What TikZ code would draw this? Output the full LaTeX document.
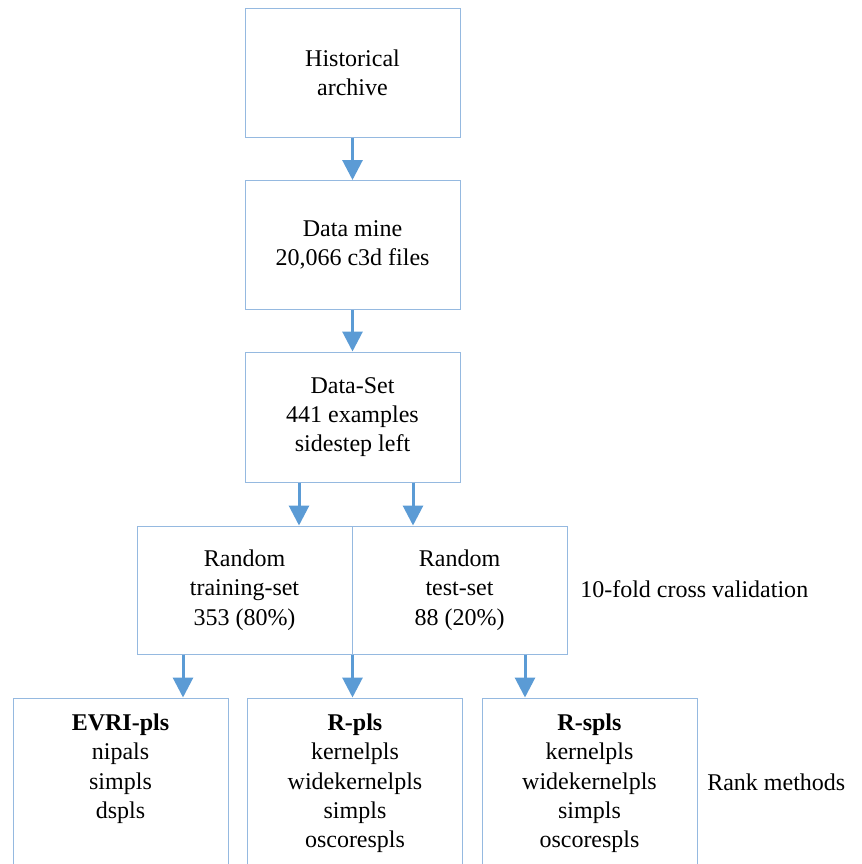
\documentclass[tikz,border=0pt]{standalone}
\usepackage{fontspec}
\setmainfont{Liberation Serif}
\usetikzlibrary{arrows.meta}
\definecolor{boxline}{HTML}{95B9E0}
\definecolor{arrowblue}{HTML}{5B9BD5}
\tikzset{
  box/.style={draw=boxline, line width=0.75pt, inner sep=0pt, minimum width=161.25pt, minimum height=96.75pt, align=center},
  tallbox/.style={box, minimum height=151.5pt},
  txt/.style={inner sep=0pt, align=center},
  arr/.style={draw=arrowblue, line width=2.25pt, -{Triangle[width=15pt,length=15pt]}, color=arrowblue},
}
\begin{document}
\begin{tikzpicture}[x=0.75pt, y=-0.75pt, font=\fontsize{18pt}{22pt}\selectfont]
\useasboundingbox (0,0) rectangle (862,864);
\clip (0,0) rectangle (862,864);
\node[box] (hist) at (352.5,72.5) {Historical\\archive};
\node[box] (mine) at (352.5,245) {Data mine\\20,066 c3d files};
\node[box, minimum height=97.5pt] (dset) at (352.5,417) {Data-Set\\441 examples\\sidestep left};
\node[box, minimum height=96pt] (train) at (244.5,590) {Random\\training-set\\353 (80\%)};
\node[box, minimum height=96pt] (test) at (459.5,590) {Random\\test-set\\88 (20\%)};
\node[tallbox] (evri) at (120.5,799) {};
\node[tallbox] (rpls) at (355,799) {};
\node[tallbox] (rspls) at (589.5,799) {};
\node[txt, anchor=north] (evrit) at ([yshift=-12pt]evri.north) {\textbf{EVRI-pls}\\nipals\\simpls\\dspls};
\node[txt, anchor=north] (rplst) at ([yshift=-12pt]rpls.north) {\textbf{R-pls}\\kernelpls\\widekernelpls\\simpls\\oscorespls};
\node[txt, anchor=north] (rsplst) at ([yshift=-12pt]rspls.north) {\textbf{R-spls}\\kernelpls\\widekernelpls\\simpls\\oscorespls};
\node[txt, anchor=west] (cv) at (580,589) {10-fold cross validation};
\node[txt, anchor=west] (rank) at (707,782) {Rank methods};
\coordinate (a1) at (299,0);
\coordinate (a2) at (413,0);
\coordinate (b1) at (183,0);
\coordinate (b3) at (525,0);
\draw[arr] (hist.south) -- (mine.north);
\draw[arr] (mine.south) -- (dset.north);
\draw[arr] (dset.south -| a1) -- (train.north -| a1);
\draw[arr] (dset.south -| a2) -- (test.north -| a2);
\draw[arr] (train.south -| b1) -- (evri.north -| b1);
\draw[arr] (train.south east) -- (rpls.north -| train.south east);
\draw[arr] (test.south -| b3) -- (rspls.north -| b3);
\end{tikzpicture}
\end{document}
